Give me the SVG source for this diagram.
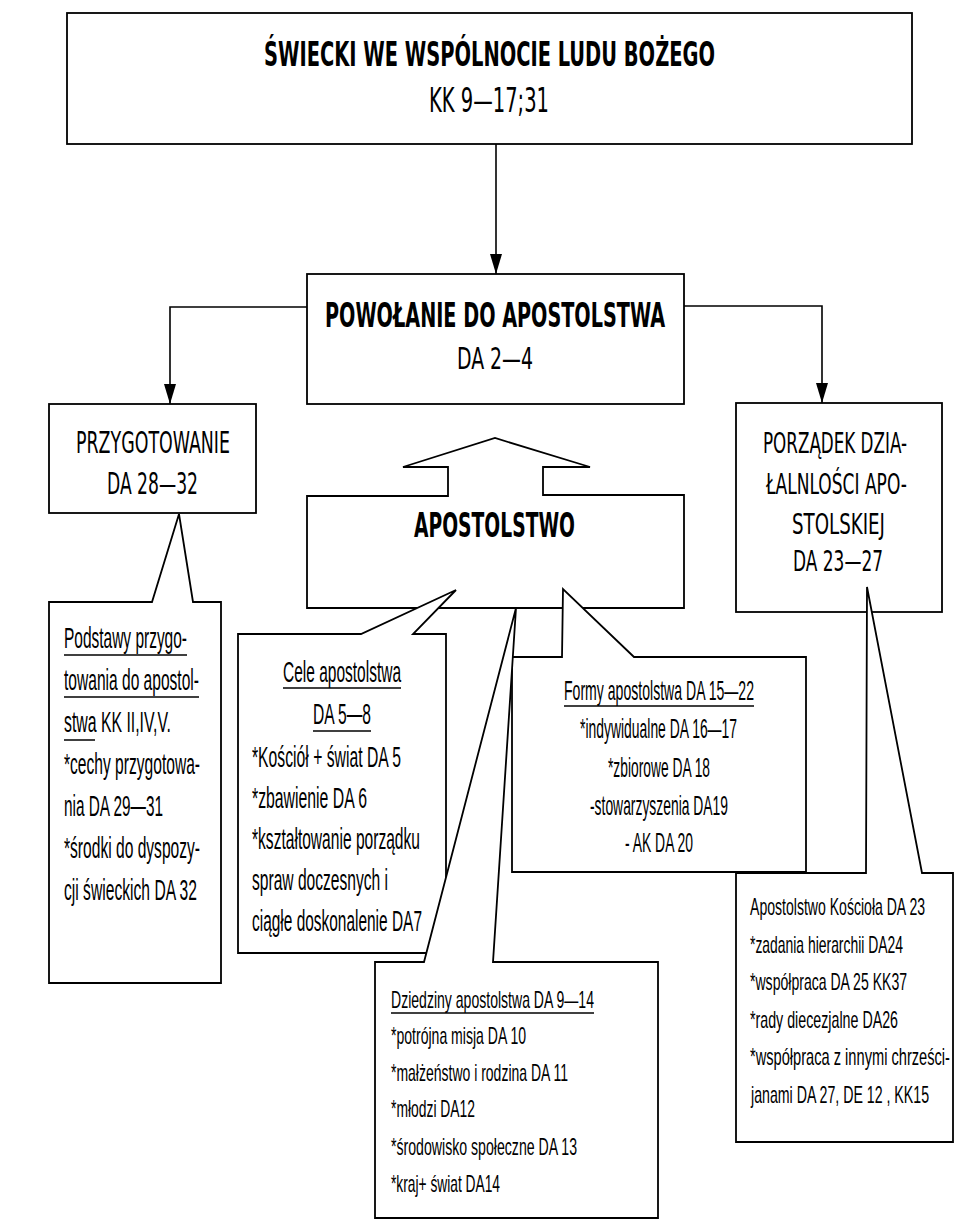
<svg xmlns="http://www.w3.org/2000/svg" width="956" height="1227" viewBox="0 0 956 1227">
<style>
.box{fill:#fff;stroke:#000;stroke-width:1.8;stroke-linejoin:miter}
.con{fill:none;stroke:#000;stroke-width:1.6}
.h{font-family:"DejaVu Sans Condensed","DejaVu Sans",sans-serif;fill:#000}
.hb{font-weight:bold}
.t{font-family:"Liberation Sans Narrow","Liberation Sans",Arial,sans-serif;fill:#000}
.ul{stroke:#000;stroke-width:1.5}
</style>
<defs>
<marker id="arr" viewBox="0 0 20 12" refX="20" refY="6" markerWidth="20" markerHeight="12" markerUnits="userSpaceOnUse" orient="auto">
<path d="M0,0 L20,6 L0,12 z" fill="#000"/>
</marker>
</defs>
<rect width="956" height="1227" fill="#fff"/>

<g id="connectors">
<line class="con" x1="496" y1="144" x2="496" y2="274" marker-end="url(#arr)"/>
<polyline class="con" points="307,307 170,307 170,404" marker-end="url(#arr)"/>
<polyline class="con" points="684,306 822,306 822,403" marker-end="url(#arr)"/>
</g>

<g id="node-swiecki">
<rect class="box" x="67" y="13" width="845" height="131"/>
<text class="h hb" transform="translate(264,66) scale(0.62,1)" font-size="34" textLength="727.4" lengthAdjust="spacingAndGlyphs">ŚWIECKI WE WSPÓLNOCIE LUDU BOŻEGO</text>
<text class="h" transform="translate(429,112) scale(0.62,1)" font-size="33" textLength="193.5" lengthAdjust="spacingAndGlyphs">KK 9—17;31</text>
</g>

<g id="node-powolanie">
<rect class="box" x="307" y="274" width="377" height="130"/>
<text class="h hb" transform="translate(325,327) scale(0.62,1)" font-size="33" textLength="548.4" lengthAdjust="spacingAndGlyphs">POWOŁANIE DO APOSTOLSTWA</text>
<text class="h" transform="translate(457,369) scale(0.62,1)" font-size="31" textLength="122.6" lengthAdjust="spacingAndGlyphs">DA 2—4</text>
</g>

<g id="node-przygotowanie">
<rect class="box" x="49" y="404" width="207" height="109"/>
<text class="h" transform="translate(76,453) scale(0.62,1)" font-size="30" textLength="248.4" lengthAdjust="spacingAndGlyphs">PRZYGOTOWANIE</text>
<text class="h" transform="translate(107,494) scale(0.62,1)" font-size="30" textLength="146.8" lengthAdjust="spacingAndGlyphs">DA 28—32</text>
</g>

<g id="node-porzadek">
<rect class="box" x="736" y="403" width="206" height="209"/>
<text class="h" transform="translate(763,453) scale(0.62,1)" font-size="29" textLength="232.3" lengthAdjust="spacingAndGlyphs">PORZĄDEK DZIA-</text>
<text class="h" transform="translate(766,494) scale(0.62,1)" font-size="29" textLength="227.4" lengthAdjust="spacingAndGlyphs">ŁALNLOŚCI APO-</text>
<text class="h" transform="translate(792,534) scale(0.62,1)" font-size="29" textLength="150" lengthAdjust="spacingAndGlyphs">STOLSKIEJ</text>
<text class="h" transform="translate(793,571) scale(0.62,1)" font-size="29" textLength="145.2" lengthAdjust="spacingAndGlyphs">DA 23—27</text>
</g>

<g id="node-apostolstwo">
<polygon class="box" points="307,496 448,496 448,467 403,467 495,438 590,467 543,467 543,495 684,495 684,608 307,608"/>
<text class="h hb" transform="translate(414,537) scale(0.62,1)" font-size="33" textLength="259.7" lengthAdjust="spacingAndGlyphs">APOSTOLSTWO</text>
</g>

<g id="node-podstawy">
<polygon class="box" points="49,602 152,602 179,514 193,602 221,602 221,983 49,983"/>
<text class="t" transform="translate(64,648) scale(0.6,1)" font-size="29" textLength="205" lengthAdjust="spacingAndGlyphs">Podstawy przygo-</text>
<line class="ul" x1="64" y1="655" x2="187" y2="655"/>
<text class="t" transform="translate(64,690) scale(0.6,1)" font-size="29" textLength="225" lengthAdjust="spacingAndGlyphs">towania do apostol-</text>
<line class="ul" x1="64" y1="697" x2="199" y2="697"/>
<text class="t" transform="translate(64,732) scale(0.6,1)" font-size="29" textLength="178.3" lengthAdjust="spacingAndGlyphs">stwa KK II,IV,V.</text>
<line class="ul" x1="64" y1="740" x2="95" y2="740"/>
<text class="t" transform="translate(64,774) scale(0.6,1)" font-size="29" textLength="226.7" lengthAdjust="spacingAndGlyphs">*cechy przygotowa-</text>
<text class="t" transform="translate(64,816) scale(0.6,1)" font-size="29" textLength="165" lengthAdjust="spacingAndGlyphs">nia DA 29—31</text>
<text class="t" transform="translate(64,858) scale(0.6,1)" font-size="29" textLength="226.7" lengthAdjust="spacingAndGlyphs">*środki do dyspozy-</text>
<text class="t" transform="translate(64,900) scale(0.6,1)" font-size="29" textLength="221.7" lengthAdjust="spacingAndGlyphs">cji świeckich DA 32</text>
</g>

<g id="node-cele">
<polygon class="box" points="238,634 361,634 456,590 413,634 446,634 446,953 238,953"/>
<text class="t" transform="translate(283,682) scale(0.6,1)" font-size="29" textLength="196.7" lengthAdjust="spacingAndGlyphs">Cele apostolstwa</text>
<line class="ul" x1="283" y1="688" x2="401" y2="688"/>
<text class="t" transform="translate(313,724) scale(0.6,1)" font-size="29" textLength="96.7" lengthAdjust="spacingAndGlyphs">DA 5—8</text>
<line class="ul" x1="313" y1="731" x2="371" y2="731"/>
<text class="t" transform="translate(252,767) scale(0.6,1)" font-size="29" textLength="248.3" lengthAdjust="spacingAndGlyphs">*Kościół + świat DA 5</text>
<text class="t" transform="translate(252,808) scale(0.6,1)" font-size="29" textLength="191.7" lengthAdjust="spacingAndGlyphs">*zbawienie DA 6</text>
<text class="t" transform="translate(252,849) scale(0.6,1)" font-size="29" textLength="280" lengthAdjust="spacingAndGlyphs">*kształtowanie porządku</text>
<text class="t" transform="translate(252,890) scale(0.6,1)" font-size="29" textLength="226.7" lengthAdjust="spacingAndGlyphs">spraw doczesnych i</text>
<text class="t" transform="translate(252,931) scale(0.6,1)" font-size="29" textLength="283.3" lengthAdjust="spacingAndGlyphs">ciągłe doskonalenie DA7</text>
</g>

<g id="node-formy">
<polygon class="box" points="512,657 562,657 563,589 634,657 806,657 806,872 512,872"/>
<text class="t" transform="translate(564,700) scale(0.6,1)" font-size="27" textLength="316.7" lengthAdjust="spacingAndGlyphs">Formy apostolstwa DA 15—22</text>
<line class="ul" x1="564" y1="706" x2="754" y2="706"/>
<text class="t" transform="translate(580,738) scale(0.6,1)" font-size="27" textLength="261.7" lengthAdjust="spacingAndGlyphs">*indywidualne DA 16—17</text>
<text class="t" transform="translate(608,777) scale(0.6,1)" font-size="27" textLength="170" lengthAdjust="spacingAndGlyphs">*zbiorowe DA 18</text>
<text class="t" transform="translate(590,815) scale(0.6,1)" font-size="27" textLength="230" lengthAdjust="spacingAndGlyphs">-stowarzyszenia DA19</text>
<text class="t" transform="translate(625,852) scale(0.6,1)" font-size="27" textLength="113.3" lengthAdjust="spacingAndGlyphs">- AK DA 20</text>
</g>

<g id="node-dziedziny">
<polygon class="box" points="375,962 424,962 516,608 493,962 658,962 658,1218 375,1218"/>
<text class="t" transform="translate(391,1008) scale(0.6,1)" font-size="24" textLength="338.3" lengthAdjust="spacingAndGlyphs">Dziedziny apostolstwa DA 9—14</text>
<line class="ul" x1="391" y1="1013" x2="594" y2="1013"/>
<text class="t" transform="translate(391,1044) scale(0.6,1)" font-size="24" textLength="225" lengthAdjust="spacingAndGlyphs">*potrójna misja DA 10</text>
<text class="t" transform="translate(391,1081) scale(0.6,1)" font-size="24" textLength="295" lengthAdjust="spacingAndGlyphs">*małżeństwo i rodzina DA 11</text>
<text class="t" transform="translate(391,1117) scale(0.6,1)" font-size="24" textLength="140" lengthAdjust="spacingAndGlyphs">*młodzi DA12</text>
<text class="t" transform="translate(391,1155) scale(0.6,1)" font-size="24" textLength="310" lengthAdjust="spacingAndGlyphs">*środowisko społeczne DA 13</text>
<text class="t" transform="translate(391,1192) scale(0.6,1)" font-size="24" textLength="181.7" lengthAdjust="spacingAndGlyphs">*kraj+ świat DA14</text>
</g>

<g id="node-apostolstwo-kosciola">
<polygon class="box" points="736,873 866,873 867,587 922,873 953,873 953,1142 736,1142"/>
<text class="t" transform="translate(750,915) scale(0.6,1)" font-size="24" textLength="291.7" lengthAdjust="spacingAndGlyphs">Apostolstwo Kościoła DA 23</text>
<text class="t" transform="translate(750,953) scale(0.6,1)" font-size="24" textLength="255" lengthAdjust="spacingAndGlyphs">*zadania hierarchii DA24</text>
<text class="t" transform="translate(750,990) scale(0.6,1)" font-size="24" textLength="261.7" lengthAdjust="spacingAndGlyphs">*współpraca DA 25 KK37</text>
<text class="t" transform="translate(750,1028) scale(0.6,1)" font-size="24" textLength="246.7" lengthAdjust="spacingAndGlyphs">*rady diecezjalne DA26</text>
<text class="t" transform="translate(750,1065) scale(0.6,1)" font-size="24" textLength="333.3" lengthAdjust="spacingAndGlyphs">*współpraca z innymi chrześci-</text>
<text class="t" transform="translate(751,1103) scale(0.6,1)" font-size="24" textLength="296.7" lengthAdjust="spacingAndGlyphs">janami DA 27, DE 12 , KK15</text>
</g>
</svg>
